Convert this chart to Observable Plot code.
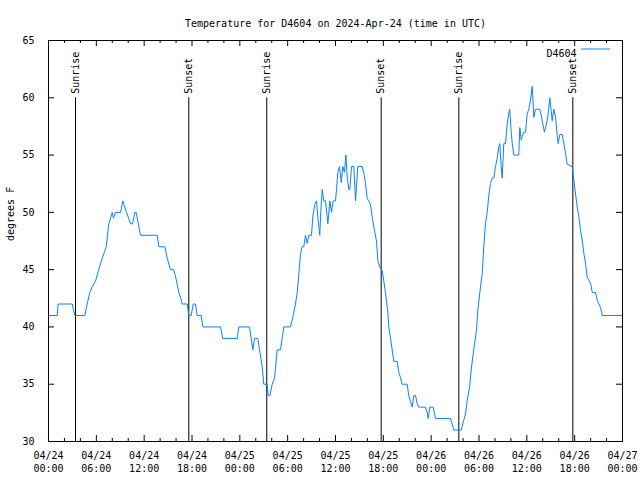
<!DOCTYPE html>
<html>
<head>
<meta charset="utf-8">
<script src="https://cdn.jsdelivr.net/npm/d3@7"></script>
<script src="https://cdn.jsdelivr.net/npm/@observablehq/plot@0.6"></script>
<style>
  html, body { margin: 0; padding: 0; background: #fff; }
</style>
</head>
<body>
<div id="chart"></div>
<script>
const titleText = "Temperature for D4604 on 2024-Apr-24 (time in UTC)";
const yLabel = "degrees F";
const seriesName = "D4604";
const startUTC = Date.UTC(2024, 3, 24);

// hours after 2024-04-24 00:00 UTC
const hours = [0,1.1,1.2,2.97,3.3,4.55,4.85,5.18,5.48,5.9,6.3,6.74,7.0,7.24,7.56,7.8,7.99,8.15,8.4,9.03,9.32,9.55,9.78,10.05,10.29,10.55,10.83,11.0,11.13,11.54,13.64,13.84,14.59,14.89,15.3,15.7,15.9,16.06,16.35,16.55,16.77,17.4,17.6,17.9,18.15,18.44,18.65,19.15,19.36,21.58,21.86,23.67,23.87,25.21,25.43,25.63,25.84,26.25,26.47,26.81,27.0,27.43,27.56,27.76,28.06,28.35,28.69,29.1,29.31,29.52,30.36,30.69,30.98,31.2,31.4,31.61,31.82,32.02,32.24,32.45,32.65,32.99,33.15,33.4,33.62,33.78,34.03,34.15,34.33,34.54,34.75,35.04,35.29,35.5,35.71,36.0,36.13,36.29,36.5,36.72,36.92,37.13,37.3,37.47,37.67,37.8,38.01,38.3,38.51,38.8,39.35,39.56,39.77,39.98,40.18,40.39,40.6,40.89,41.14,41.31,41.56,41.86,42.06,42.27,42.56,42.69,42.9,43.11,43.31,43.74,43.94,44.15,44.36,44.99,45.19,45.4,45.62,45.82,46.04,46.25,46.45,47.29,47.5,47.63,47.83,48.26,48.54,50.43,50.64,50.84,51.77,52.02,52.31,52.52,52.81,53.06,53.34,53.68,53.85,54.1,54.4,54.6,54.81,55.03,55.23,55.44,55.65,55.86,56.07,56.28,56.48,56.61,56.78,56.91,57.11,57.32,57.54,57.74,57.86,58.04,58.17,58.37,58.99,59.12,59.3,59.42,59.62,59.84,60.05,60.25,60.46,60.67,60.88,61.09,61.63,61.8,62.0,62.21,62.46,62.68,62.88,63.05,63.18,63.38,63.6,63.81,63.93,64.14,64.44,64.64,64.85,65.06,65.69,65.9,66.11,66.32,66.53,66.74,66.96,67.16,67.37,67.58,67.78,68.0,68.21,68.62,68.84,69.04,69.25,69.46,72];
const tempsF = [41,41,42,42,41,41,42,43,43.5,44,45,46,46.5,47,49,49.5,50,49.5,50,50,51,50.5,50,49.5,49,49,50,50,49.5,48,48,47,47,46,45,45,44.5,44,43,42.6,42,42,41,41,42,42,41,41,40,40,39,39,40,40,39,38,39,39,38,36.5,35,35,34,34,35,35.5,38,38,39,40,40,41,42,43,44.6,46.4,47,47,48,47.3,48,48,49.6,50.7,51,49.6,48,50,52,51,51,49,51,50,51,51,52,53.5,54,52.6,54,53.5,55,53,52,52,54,54,51,54,54,53.4,52.5,51.2,51,50.7,49.6,48.4,47.5,45.8,45.2,44.9,44,43,41.3,40,39,38,37,37,36,35.6,35,35,34,33.5,33,34,34,33.3,33,33,32.5,32,33,33,32,32,31.5,31,31,31.7,32.4,33.6,34.7,36.5,38,39.7,41.4,43,44.6,47,49,50,51.5,52.5,53,53,54,54.7,55.7,56,54,53,56,56,57.7,58.7,59,57,56,55,55,57.4,56.3,56.6,57,57,58.6,59,59.8,61,58.3,59,59,58.5,57.7,57,57.7,58.6,60,58.9,58,59,58.3,56.7,56,56.8,56.8,56,55.2,54.2,54,52.8,51.6,50.5,49.6,48.4,47.5,46.4,45.5,44.3,44.1,43.8,43,43,42.3,42,41.7,41,41];

const eventHours = [3.39, 17.6, 27.38, 41.73, 51.47, 65.77];
const eventLabels = ["Sunrise", "Sunset", "Sunrise", "Sunset", "Sunrise", "Sunset"];

const xMajorHours = [0,6,12,18,24,30,36,42,48,54,60,66,72];
const xMinorHours = [2,4,8,10,14,16,20,22,26,28,32,34,38,40,44,46,50,52,56,58,62,64,68,70];
const yTicks = [30,35,40,45,50,55,60,65];

const toDate = h => new Date(startUTC + h * 3600e3);
const data = hours.map((h, i) => ({time: toDate(h), temp: tempsF[i]}));
const events = eventHours.map((h, i) => ({time: toDate(h), label: eventLabels[i]}));
const majors = xMajorHours.map(toDate);
const minors = xMinorHours.map(toDate);

const W = 640, H = 480, mL = 48, mR = 18, mT = 40, mB = 39;
const innerH = H - mT - mB, innerW = W - mL - mR;
const lineColor = "#0a80ff";

const chart = Plot.plot({
  width: W, height: H,
  marginLeft: mL, marginRight: mR, marginTop: mT, marginBottom: mB,
  x: {type: "utc", domain: [toDate(0), toDate(72)]},
  y: {domain: [30, 65]},
  style: {fontFamily: "DejaVu Sans Mono", fontSize: "10px", color: "black", background: "white", overflow: "visible"},
  marks: [
    Plot.axisX(majors, {anchor: "bottom", tickSize: 0, tickPadding: 8, tickFormat: d3.utcFormat("%m/%d\n%H:%M"), lineHeight: 1.3, label: null, fontSize: 10}),
    Plot.axisY(yTicks, {anchor: "left", tickSize: 0, tickPadding: 14, label: null, fontSize: 10}),
    Plot.tickX(majors, {x: d => d, insetTop: innerH - 6, stroke: "black"}),
    Plot.tickX(majors, {x: d => d, insetBottom: innerH - 6, stroke: "black"}),
    Plot.tickX(minors, {x: d => d, insetTop: innerH - 3, stroke: "black"}),
    Plot.tickX(minors, {x: d => d, insetBottom: innerH - 3, stroke: "black"}),
    Plot.tickY(yTicks, {y: d => d, insetRight: innerW - 6, stroke: "black"}),
    Plot.tickY(yTicks, {y: d => d, insetLeft: innerW - 6, stroke: "black"}),
    Plot.ruleX(events, {x: "time", y1: 30, y2: 60, stroke: "black", strokeWidth: 1}),
    Plot.text(events, {x: "time", y: 60, text: "label", rotate: -90, textAnchor: "start", dy: -4, fontSize: 10, fill: "black"}),
    Plot.line(data, {x: "time", y: "temp", stroke: lineColor, strokeWidth: 1}),
    Plot.frame({stroke: "black"}),
    Plot.text([titleText], {frameAnchor: "top", dy: -21, fontSize: 10, fill: "black"}),
    Plot.text([yLabel], {frameAnchor: "left", dx: -38, rotate: -90, fontSize: 10, fill: "black"}),
    Plot.text([seriesName], {frameAnchor: "top-right", dx: -46, dy: 9, textAnchor: "end", fontSize: 10, fill: "black"})
  ]
});

// legend line sample
d3.select(chart).append("line")
  .attr("x1", W - mR - 41).attr("x2", W - mR - 12)
  .attr("y1", mT + 9).attr("y2", mT + 9)
  .attr("stroke", lineColor).attr("stroke-width", 1);

document.getElementById("chart").appendChild(chart);
</script>
</body>
</html>
